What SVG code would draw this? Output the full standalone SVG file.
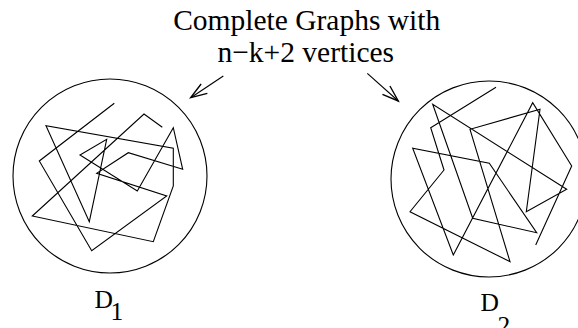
<svg xmlns="http://www.w3.org/2000/svg" width="578" height="328" viewBox="0 0 578 328">
  <style>
    .ln { fill: none; stroke: #000; stroke-width: 1.1; stroke-linejoin: miter; }
    .txt { font-family: "Liberation Serif", "Times New Roman", serif; font-size: 29.5px; fill: #000; }
    .lbl { font-family: "Liberation Serif", "Times New Roman", serif; font-size: 25.5px; fill: #000; }
  </style>
  <defs>
    <marker id="arr" markerUnits="userSpaceOnUse" markerWidth="20" markerHeight="20" refX="0" refY="0" viewBox="-14 -7 16 14" orient="auto">
      <path d="M-13,-4.5 L0,0 L-13,4.5" fill="none" stroke="#000" stroke-width="1.1"/>
    </marker>
  </defs>
  <rect width="578" height="328" fill="#fff"/>

  <g id="title">
    <text class="txt" x="306.7" y="30" text-anchor="middle">Complete Graphs with</text>
    <text class="txt" x="305.8" y="61.7" text-anchor="middle">n−k+2 vertices</text>
  </g>

  <g id="D1">
    <circle class="ln" cx="110" cy="176" r="97"/>
    <polyline class="ln" points="114.3,103.3 39.3,161 91.7,250.7 166.7,196 96.7,173.3 128.3,152.7 182.7,169.3 173.3,127.7 137.3,191 80,155 106.7,139.3 89.3,221.7 46,125.7 173.3,148.3 173.3,186 153.3,241.7 32.3,216 144,114 162.3,127.3"/>
    <text class="lbl" x="94.5" y="307.7">D</text>
    <text class="lbl" x="110.5" y="320">1</text>
  </g>

  <g id="D2">
    <circle class="ln" cx="489" cy="179" r="98"/>
    <polyline class="ln" points="535.7,245 571.7,166 532.7,102.7 453.3,255 412.7,148.3 489.3,163.3 536.7,232.7 472.7,218.3 432.7,104.3 566.7,189.3 526.3,211.7 540,109.3 470,129.3 510,261.7 410,211.7 444,170 430.7,127.7 496,87.3"/>
    <text class="lbl" x="480.5" y="310.7">D</text>
    <text class="lbl" x="497.5" y="333.5">2</text>
  </g>

  <g id="connectors">
    <line class="ln" x1="223.3" y1="76" x2="190.7" y2="97.7" marker-end="url(#arr)"/>
    <line class="ln" x1="367.3" y1="73.3" x2="398.3" y2="101" marker-end="url(#arr)"/>
  </g>
</svg>
